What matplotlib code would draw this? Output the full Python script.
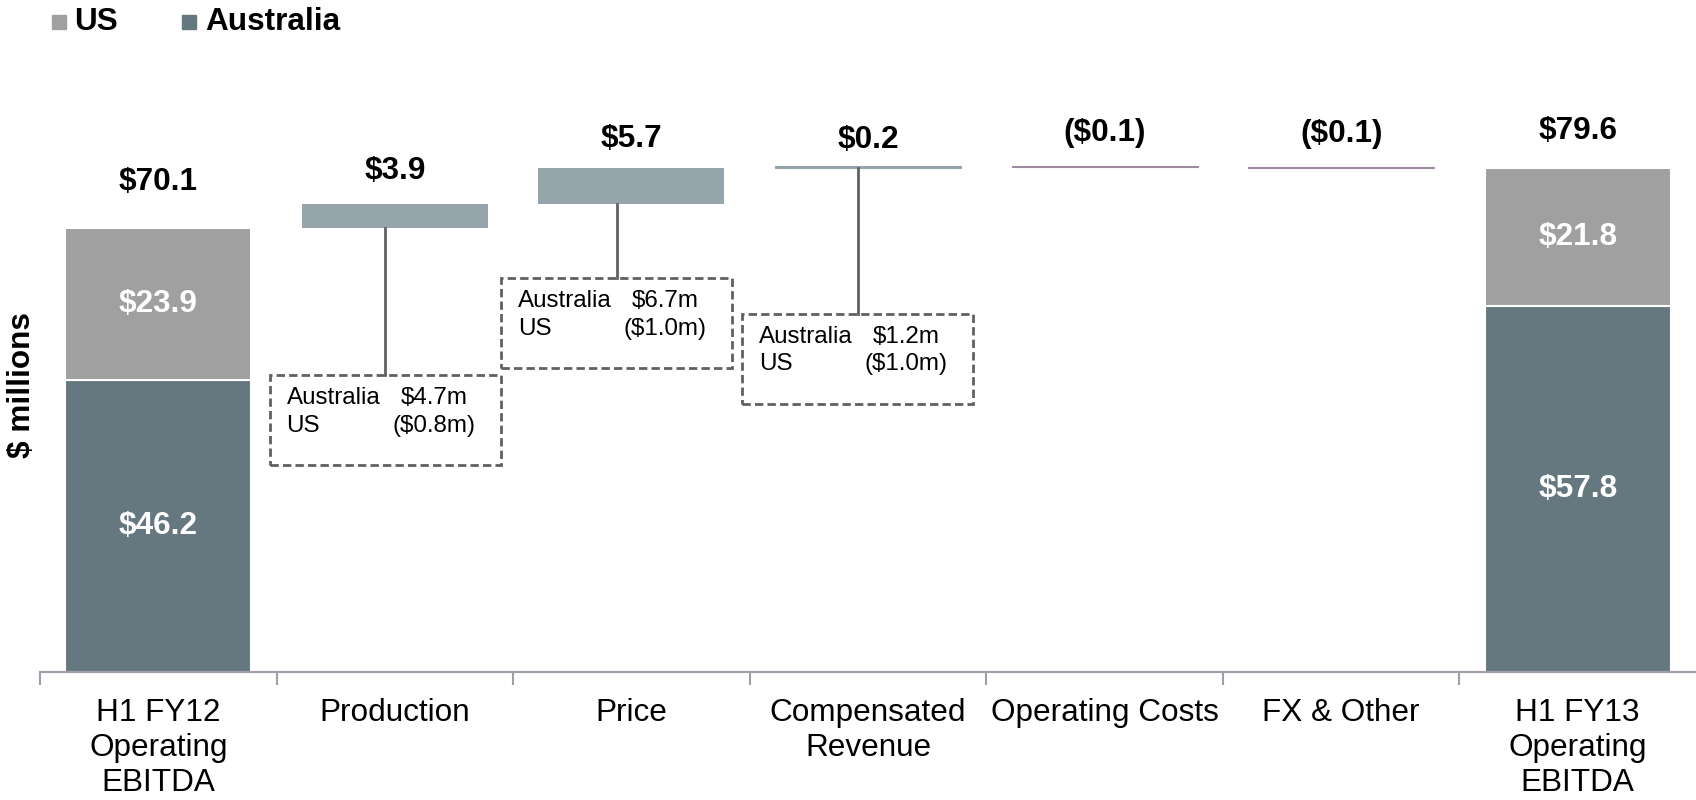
import matplotlib.pyplot as plt
from matplotlib.patches import Rectangle

plt.rcParams['font.family'] = ['Liberation Sans', 'DejaVu Sans']

categories = ["H1 FY12\nOperating\nEBITDA", "Production", "Price",
              "Compensated\nRevenue", "Operating Costs", "FX & Other",
              "H1 FY13\nOperating\nEBITDA"]
start_aus = 46.2
start_us = 23.9
deltas = [3.9, 5.7, 0.2, -0.1, -0.1]
end_aus = 57.8
end_us = 21.8

# split of the first three movements by country
split_idx = [1, 2, 3]
split_aus = [4.7, 6.7, 1.2]
split_us = [-0.8, -1.0, -1.0]

c_aus = "#66787f"
c_us = "#a0a0a0"
c_up = "#95a5ab"
c_down = "#a08aa2"
c_axis = "#a49cab"
c_box = "#606060"


def money(v):
    if v < 0:
        return f"(${-v:.1f})"
    return f"${v:.1f}"


def money_m(v):
    if v < 0:
        return f"(${-v:.1f}m)"
    return f"${v:.1f}m"


fig = plt.figure(figsize=(16.96, 8), dpi=100)
ax = fig.add_axes([40 / 1696, 0.16, 1 - 40 / 1696, 0.84])
ax.set_xlim(-0.5, 6.5)
ax.set_ylim(0, 106.2)
w = 0.786

# opening and closing totals, stacked
ax.bar(0, start_aus, w, color=c_aus, edgecolor="white", linewidth=1.5)
ax.bar(0, start_us, w, bottom=start_aus, color=c_us, edgecolor="white", linewidth=1.5)
ax.bar(6, end_aus, w, color=c_aus, edgecolor="white", linewidth=1.5)
ax.bar(6, end_us, w, bottom=end_aus, color=c_us, edgecolor="white", linewidth=1.5)

# floating bars
level = start_aus + start_us
tops = [level]
bottoms = []
for i, d in enumerate(deltas):
    col = c_up if d > 0 else c_down
    ax.bar(i + 1, d, w, bottom=level, color=col, edgecolor=col,
           linewidth=0.8 if abs(d) < 1 else 0)
    bottoms.append(min(level, level + d))
    level += d
    tops.append(max(level, level - d))
tops.append(end_aus + end_us)

# numbers above bars
totals = [start_aus + start_us] + deltas + [end_aus + end_us]
label_off = [46, 33, 29, 26, 33, 33, 37]
for i, v in enumerate(totals):
    ax.annotate(money(v), (i, tops[i]), xytext=(0, label_off[i] * 0.72),
                textcoords="offset points", ha="center", va="center",
                fontsize=22.7, fontweight="bold")

# numbers inside stacked bars
for x, b, h in [(0, 0, start_aus), (0, start_aus, start_us),
                (6, 0, end_aus), (6, end_aus, end_us)]:
    ax.text(x, b + h / 2, money(h), ha="center", va="center",
            color="white", fontsize=22.7, fontweight="bold")

# dashed callout boxes
box_shift = [-0.04, -0.063, -0.043]
box_top = [46.9, 62.2, 56.6]
box_h = 14.2
box_w = 0.976
for k, i in enumerate(split_idx):
    cx = i + box_shift[k]
    left = cx - box_w / 2
    ax.add_patch(Rectangle((left, box_top[k] - box_h), box_w, box_h, fill=False,
                           edgecolor=c_box, linestyle=(0, (3, 1.5)), linewidth=2))
    ax.plot([cx, cx], [box_top[k], bottoms[i - 1]], color=c_box, linewidth=2)
    ax.text(left + 0.07, box_top[k] - 3.6, "Australia", fontsize=17.4, va="center")
    ax.text(left + 0.07, box_top[k] - 8.0, "US", fontsize=17.4, va="center")
    ax.text(left + 0.07 + 0.482, box_top[k] - 3.6, money_m(split_aus[k]),
            fontsize=17.4, va="center")
    ax.text(left + 0.07 + 0.448, box_top[k] - 8.0, money_m(split_us[k]),
            fontsize=17.4, va="center")

# axes styling
for s in ["top", "right", "left"]:
    ax.spines[s].set_visible(False)
ax.spines["bottom"].set_color(c_axis)
ax.spines["bottom"].set_linewidth(1.5)
ax.set_yticks([])
ax.set_xticks(range(7))
ax.set_xticklabels(categories, fontsize=22.7, linespacing=1.2)
ax.tick_params(axis="x", which="major", length=0, pad=19)
ax.set_xticks([i - 0.5 for i in range(7)], minor=True)
ax.tick_params(axis="x", which="minor", length=9, width=1.5, color=c_axis)

fig.text(22 / 1696, 1 - 385 / 800, "$ millions", rotation=90, ha="center",
         va="center", fontsize=22.7, fontweight="bold")

# legend drawn by hand: small squares + bold names
for x_sq, x_txt, name, col in [(52, 74, "US", c_us), (182, 205, "Australia", c_aus)]:
    fig.patches.append(Rectangle((x_sq / 1696, 1 - 29 / 800), 14 / 1696, 14 / 800,
                                 transform=fig.transFigure, color=col))
    fig.text(x_txt / 1696, 1 - 22 / 800, name, ha="left", va="center",
             fontsize=22.7, fontweight="bold")

fig.savefig("out.png", dpi=100)
